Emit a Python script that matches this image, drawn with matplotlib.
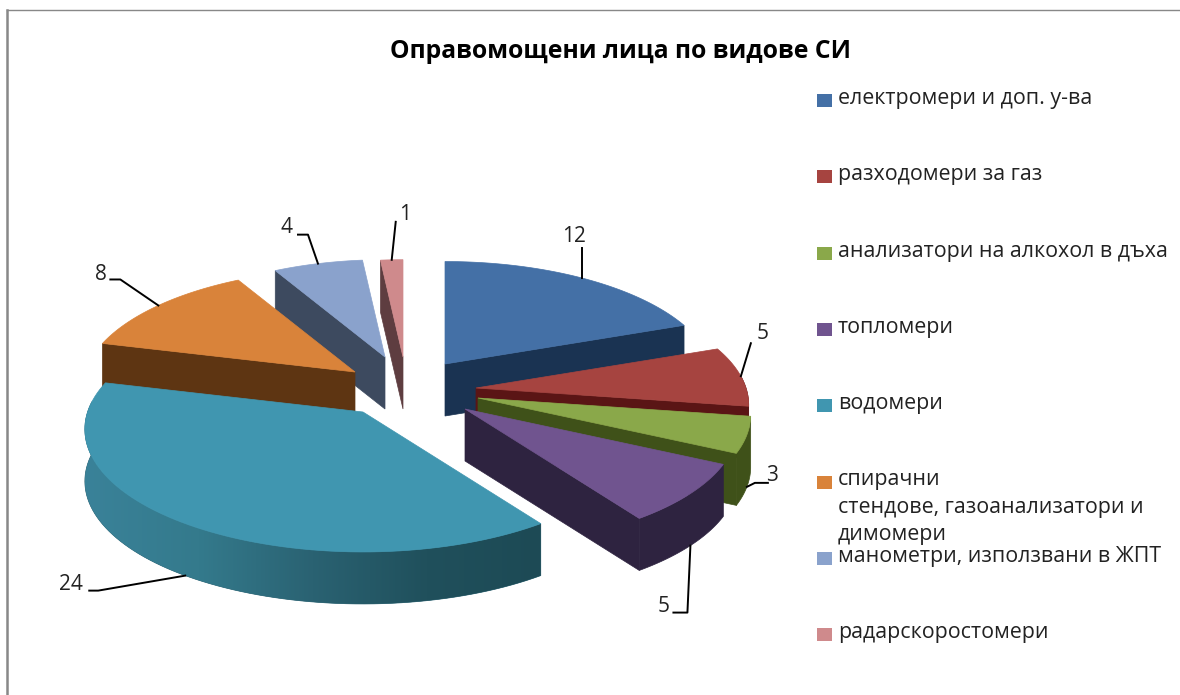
import numpy as np
import matplotlib
matplotlib.use('Agg')
import matplotlib.pyplot as plt
from matplotlib.patches import Polygon, Rectangle
from matplotlib.colors import LinearSegmentedColormap

plt.rcParams['font.family'] = ['Open Sans', 'DejaVu Sans']

# Data
title = 'Оправомощени лица по видове СИ'
categories = ['електромери и доп. у-ва', 'разходомери за газ', 'анализатори на алкохол в дъха',
              'топломери', 'водомери', 'спирачни\nстендове, газоанализатори и\nдимомери',
              'манометри, използвани в ЖПТ', 'радарскоростомери']
values = [12, 5, 3, 5, 24, 8, 4, 1]

# Colours
top_colors = ['#4470a6', '#a64440', '#8aa84a', '#70548f', '#4096b0', '#d9833a', '#8aa2cc', '#cf8a8c']
wall_colors = ['#1a3352', '#5a1515', '#3f5119', '#2e2340', '#2a6272', '#5e3512', '#3d4a5f', '#5e3d40']

# Pie layout, in pixels (exploded 3d pie, so each slice has its own apex)
apex = [(445, 364), (476, 388), (478, 398), (465, 409), (363, 412), (355, 372), (385, 357), (403, 357)]
scale = [0.99, 1, 1, 1, 1.02, 1, 0.94, 0.94]
rx, ry, persp, depth = 270, 118, 0.14, 52
draw_order = [0, 1, 2, 3, 7, 6, 5, 4]
# leader line bends, relative to the slice midpoint, then label position
leaders = [[(0, -30)], [(10, -33)], [(8, -4), (21, -4)], [(-3, 67), (-17, 67)],
           [(-87, 15), (-96, 15)], [(-38, -26), (-48, -26)], [(-10, -29), (-20, -29)], [(4, -38)]]
label_off = [(-8, -42), (22, -43), (25, -11), (-27, 61), (-114, 9), (-57, -31), (-31, -36), (13, -45)]


def arc(i, th):
    # th in degrees, clockwise from the top
    t = np.radians(th)
    s = scale[i] / (1 + persp * np.cos(t))
    return apex[i][0] + rx * np.sin(t) * s, apex[i][1] - ry * np.cos(t) * s


edges = np.concatenate([[0], np.cumsum(values)]) / sum(values) * 360

fig = plt.figure(figsize=(11.8, 6.95), dpi=100)
ax = fig.add_axes([0, 0, 1, 1])
ax.set_xlim(0, 1180)
ax.set_ylim(695, 0)
ax.axis('off')

# frame of the original picture
ax.plot([7, 7], [695, 10], color='#888888', lw=1.8, zorder=1)
ax.plot([7, 1180], [10, 10], color='#888888', lw=1.0, zorder=1)

teal_grad = LinearSegmentedColormap.from_list('teal', ['#3a8299', '#347a8c', '#2a6272', '#20505c', '#1d4a55'])

z = 2
for i in draw_order:
    a0, a1 = edges[i], edges[i + 1]
    th = np.linspace(a0, a1, 80)
    x, y = arc(i, th)
    ax_, ay = apex[i]

    # outer wall, only the part facing the viewer
    lo, hi = max(a0, 85), min(a1, 275)
    if lo < hi:
        wx, wy = arc(i, np.linspace(lo, hi, 80))
        pts = np.r_[np.c_[wx, wy], np.c_[wx[::-1], wy[::-1] + depth]]
        wall = Polygon(pts, closed=True, fc=wall_colors[i], ec=wall_colors[i], lw=0.5, zorder=z)
        ax.add_patch(wall)
        if i == 4:
            im = ax.imshow(np.linspace(0, 1, 256)[None, :], cmap=teal_grad, aspect='auto',
                           extent=(wx.min(), wx.max(), wy.max() + depth, wy.min()), zorder=z + 0.5)
            im.set_clip_path(wall)
            ax.set_xlim(0, 1180)
            ax.set_ylim(695, 0)
        z += 1

    # radial wall at the side that faces the viewer
    if i in (0, 1, 2, 3):
        ex, ey = arc(i, a1)
    elif i in (5, 6, 7):
        ex, ey = arc(i, a0)
    else:
        ex = None
    if ex is not None:
        ax.add_patch(Polygon([(ax_, ay), (ex, ey), (ex, ey + depth), (ax_, ay + depth)], closed=True,
                             fc=wall_colors[i], ec=wall_colors[i], lw=0.5, zorder=z))
        z += 1

    # top face
    ax.add_patch(Polygon(np.r_[[(ax_, ay)], np.c_[x, y]], closed=True,
                         fc=top_colors[i], ec=top_colors[i], lw=0.5, zorder=z))
    z += 1

# value labels with leader lines
for i, v in enumerate(values):
    mid = (edges[i] + edges[i + 1]) / 2
    mx, my = arc(i, mid)
    if 90 < mid < 270:
        my += depth
    lx = [mx] + [mx + d[0] for d in leaders[i]]
    ly = [my] + [my + d[1] for d in leaders[i]]
    ax.plot(lx, ly, color='black', lw=1.4, zorder=50)
    ax.text(mx + label_off[i][0], my + label_off[i][1], str(v), fontsize=15, color='#222222',
            ha='center', va='center', zorder=50)

# title
ax.text(621, 52, title, fontsize=17.8, fontweight='bold', color='black', ha='center', va='center')

# legend
for i, name in enumerate(categories):
    ly = 100 + i * 76.3
    ax.add_patch(Rectangle((817, ly - 6), 15, 13, fc=top_colors[i], ec='none'))
    ax.text(838, ly - 12, name, fontsize=15.4, color='#222222', ha='left', va='top', linespacing=1.38)

fig.savefig('out.png', dpi=100)
